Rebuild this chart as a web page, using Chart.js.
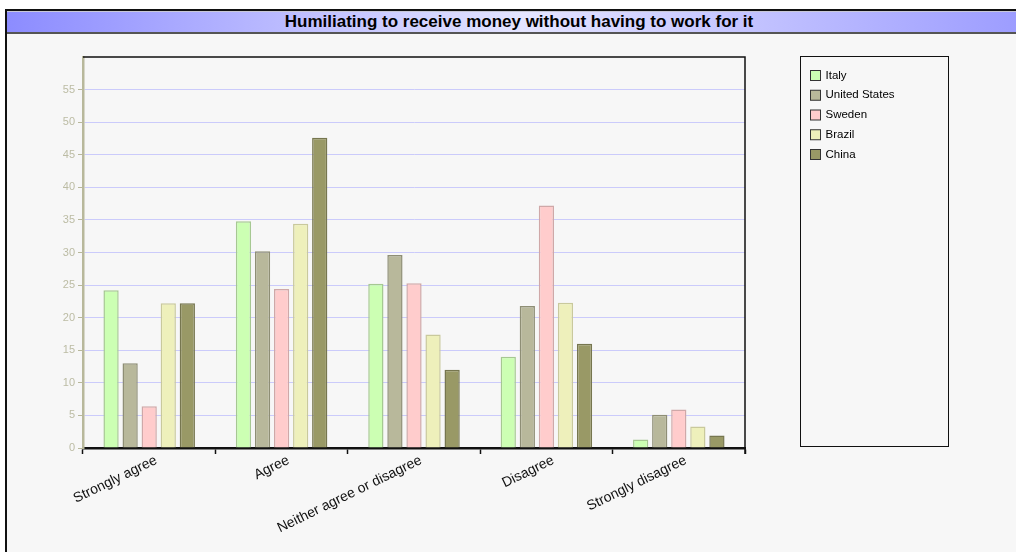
<!DOCTYPE html>
<html>
<head>
<meta charset="utf-8">
<title>Humiliating to receive money without having to work for it</title>
<script src="https://cdn.jsdelivr.net/npm/chart.js@4/dist/chart.umd.min.js"></script>
<style>
  html, body { margin: 0; padding: 0; background: #fff; width: 1016px; height: 552px; overflow: hidden; }
  #frame {
    position: absolute; left: 5px; top: 9px; width: 1030px; height: 560px;
    border-left: 2px solid #111; border-top: 2px solid #111;
    background: #f7f7f7;
  }
  #title {
    position: absolute; left: 0; top: 0; width: 1030px; height: 20px;
    border-top: 1px solid #c8c8d8; border-bottom: 2px solid #555;
    background: linear-gradient(to right, #8c8cff 0%, #e4e4ff 50%, #9a9aff 100%);
    font: bold 17px "Liberation Sans", Arial, sans-serif;
    text-align: center; line-height: 20px; color: #000;
    box-sizing: content-box;
  }
  #title span { position: relative; left: -3px; }
  #wrap { position: absolute; left: 7px; top: 33px; width: 1009px; height: 519px; }
</style>
</head>
<body>
<div id="frame"><div id="title"><span>Humiliating to receive money without having to work for it</span></div></div>
<div id="wrap"><canvas id="chart"></canvas></div>
<script>
// valeurs
const categories = ['Strongly agree', 'Agree', 'Neither agree or disagree', 'Disagree', 'Strongly disagree'];
const countries = ['Italy', 'United States', 'Sweden', 'Brazil', 'China'];
const italy = [24.2, 34.8, 25.2, 14.0, 1.3];
const unitedStates = [13.0, 30.2, 29.6, 21.8, 5.1];
const sweden = [6.4, 24.4, 25.3, 37.2, 5.9];
const brazil = [22.2, 34.4, 17.4, 22.3, 3.3];
const china = [22.2, 47.6, 12.0, 16.0, 1.9];
const yTicks = [0, 5, 10, 15, 20, 25, 30, 35, 40, 45, 50, 55];

const fills = ['#ccffb3', '#b8b89b', '#ffcccc', '#eef0bb', '#999966'];
const borders = ['#a6c892', '#8e8e75', '#cfa8a8', '#c9c99c', '#76764f'];
const series = [italy, unitedStates, sweden, brazil, china];

// legende dans un cadre, a droite du graphique
const boxLegend = {
  id: 'boxLegend',
  afterDraw(chart) {
    const ctx = chart.ctx;
    const area = chart.chartArea;
    const left = area.right + 55.5, top = area.top - 0.5;
    const w = 148, h = area.bottom - area.top - 1;
    ctx.save();
    ctx.strokeStyle = '#111';
    ctx.lineWidth = 1;
    ctx.strokeRect(left, top, w, h);
    ctx.font = '11.5px "Liberation Sans", Arial, sans-serif';
    ctx.textBaseline = 'middle';
    chart.data.datasets.forEach((ds, i) => {
      const y = top + 19 + i * 19.75;
      ctx.fillStyle = ds.backgroundColor;
      ctx.fillRect(left + 10, y - 5, 10, 10);
      ctx.strokeStyle = '#333';
      ctx.strokeRect(left + 10, y - 5, 10, 10);
      ctx.fillStyle = '#000';
      ctx.fillText(ds.label, left + 25, y);
    });
    // bords haut et droit de la zone de trace
    ctx.strokeStyle = '#111';
    ctx.lineWidth = 1.5;
    ctx.beginPath();
    ctx.moveTo(area.left, area.top);
    ctx.lineTo(area.right, area.top);
    ctx.lineTo(area.right, area.bottom + 6);
    ctx.stroke();
    ctx.restore();
  }
};

new Chart(document.getElementById('chart'), {
  type: 'bar',
  data: {
    labels: categories,
    datasets: countries.map((name, i) => ({
      label: name,
      data: series[i],
      backgroundColor: fills[i],
      borderColor: borders[i],
      borderWidth: 1.5,
      categoryPercentage: 0.72,
      barPercentage: 0.8
    }))
  },
  options: {
    responsive: true,
    maintainAspectRatio: false,
    animation: false,
    layout: { padding: { top: 24, right: 271, left: 0, bottom: 0 } },
    plugins: {
      legend: { display: false },
      title: { display: false },
      tooltip: { enabled: false }
    },
    scales: {
      x: {
        afterFit(scale) { scale.height = 104; },
        grid: { drawOnChartArea: false, drawTicks: true, tickLength: 6, tickColor: '#111', tickWidth: 1.5 },
        border: { color: '#111', width: 2.5 },
        ticks: {
          color: '#111',
          font: { family: '"Liberation Sans", Arial, sans-serif', size: 14 },
          minRotation: 26,
          maxRotation: 26,
          padding: -2,
          labelOffset: 7
        }
      },
      y: {
        min: 0,
        max: 60,
        afterFit(scale) { scale.width = 76; },
        afterBuildTicks(scale) { scale.ticks = yTicks.map(v => ({ value: v })); },
        grid: { color: '#cbcbfb', lineWidth: 1, tickLength: 5, tickColor: '#b8b89b' },
        border: { color: '#b8b89b', width: 2.5 },
        ticks: {
          color: '#bcbca4',
          font: { family: '"Liberation Sans", Arial, sans-serif', size: 11 },
          padding: 3
        }
      }
    }
  },
  plugins: [boxLegend]
});
</script>
</body>
</html>
